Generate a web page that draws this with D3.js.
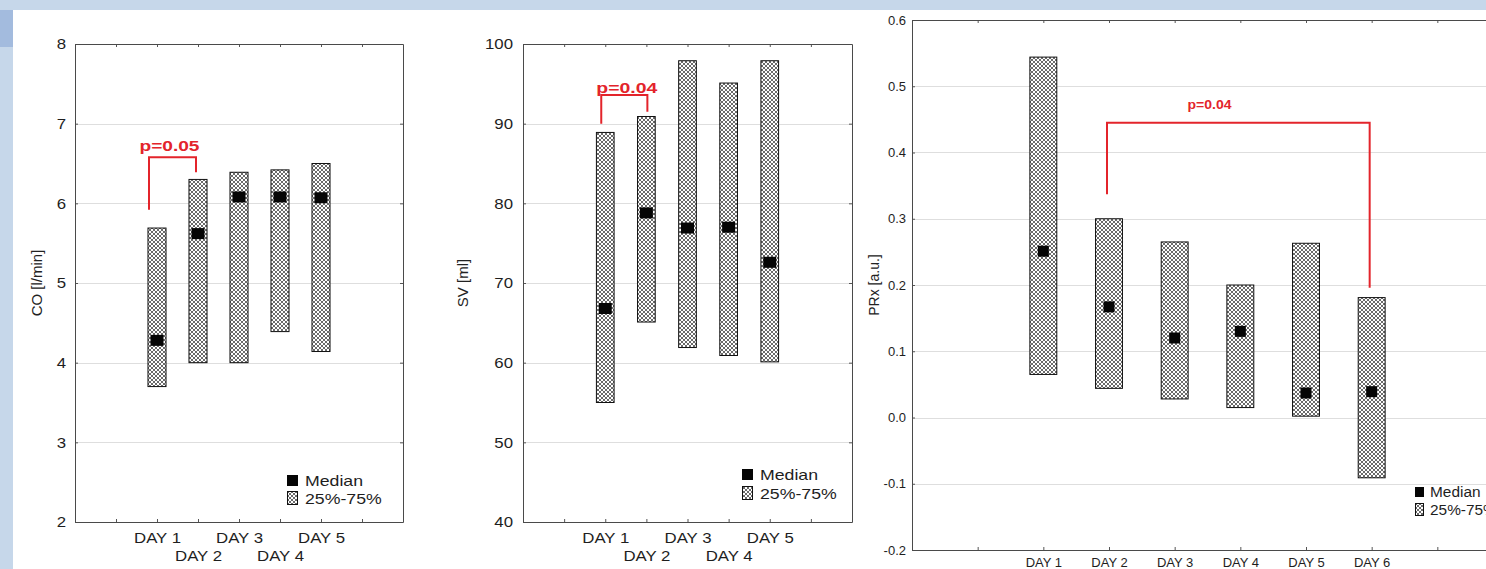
<!DOCTYPE html>
<html><head><meta charset="utf-8">
<script src="https://cdn.jsdelivr.net/npm/d3@7"></script>
<style>html,body{margin:0;padding:0;background:#c6d7ea;overflow:hidden;width:1486px;height:569px;} svg{display:block;overflow:hidden}</style>
</head><body><svg id="c" width="1486" height="569" viewBox="0 0 1486 569"></svg>
<script>
// ---------- data ----------
const days5 = ["DAY 1", "DAY 2", "DAY 3", "DAY 4", "DAY 5"];
const coQ1 = [3.70, 4.00, 4.00, 4.39, 4.14];
const coQ3 = [5.69, 6.30, 6.39, 6.42, 6.50];
const coMedian = [4.28, 5.62, 6.08, 6.08, 6.07];
const coTicks = [2, 3, 4, 5, 6, 7, 8];

const svQ1 = [55.0, 65.1, 61.9, 60.9, 60.1];
const svQ3 = [88.9, 90.9, 97.9, 95.1, 97.9];
const svMedian = [66.8, 78.8, 76.9, 77.0, 72.6];
const svTicks = [40, 50, 60, 70, 80, 90, 100];

const days6 = ["DAY 1", "DAY 2", "DAY 3", "DAY 4", "DAY 5", "DAY 6"];
const prxQ1 = [0.065, 0.044, 0.028, 0.015, 0.002, -0.091];
const prxQ3 = [0.544, 0.300, 0.265, 0.200, 0.263, 0.181];
const prxMedian = [0.251, 0.167, 0.120, 0.130, 0.037, 0.039];
const prxTicks = [-0.2, -0.1, 0.0, 0.1, 0.2, 0.3, 0.4, 0.5, 0.6];

const legendLabels = ["Median", "25%-75%"];
const coSig = { from: "DAY 1", to: "DAY 2", left: 5.92, top: 6.58, right: 6.39, label: "p=0.05" };
const svSig = { from: "DAY 1", to: "DAY 2", left: 90.0, top: 93.6, right: 91.5, label: "p=0.04" };
const prxSig = { from: "DAY 2", to: "DAY 6", left: 0.337, top: 0.445, right: 0.196, label: "p=0.04" };

// ---------- setup ----------
const FONT = "'Liberation Sans', Arial, sans-serif";
const RED = "#e3242b";
const W = 1486, H = 569;
const svg = d3.select("#c").style("font-family", FONT);

svg.append("rect").attr("x", 0).attr("y", 0).attr("width", W).attr("height", H).attr("fill", "#c6d7ea");
svg.append("rect").attr("x", 13).attr("y", 10).attr("width", W - 13).attr("height", H - 10).attr("fill", "#ffffff");
svg.append("rect").attr("x", 0).attr("y", 10).attr("width", 13).attr("height", 37).attr("fill", "#a3bbde");

const defs = svg.append("defs");
const pat = defs.append("pattern").attr("id", "hatch").attr("patternUnits", "userSpaceOnUse")
  .attr("width", 4).attr("height", 4);
pat.append("rect").attr("width", 4).attr("height", 4).attr("fill", "#fff");
pat.append("path").attr("d", "M-1,1 l2,-2 M0,4 l4,-4 M3,5 l2,-2 M-1,3 l2,2 M0,0 l4,4 M3,-1 l2,2")
  .attr("stroke", "#3a3a3a").attr("stroke-width", 0.75);

function stretch(sel, k) {
  sel.each(function () {
    const w = this.getComputedTextLength();
    if (w > 0) {
      this.setAttribute("textLength", w * k);
      this.setAttribute("lengthAdjust", "spacingAndGlyphs");
    }
  });
}

function panel(cfg) {
  const g = svg.append("g");
  const x = d3.scalePoint().domain(["_l", ...cfg.cats, "_r"]).range([cfg.x0, cfg.x1]).padding(1);
  const y = d3.scaleLinear().domain([cfg.ticks[0], cfg.ticks[cfg.ticks.length - 1]]).range([cfg.y1, cfg.y0]);
  const step = x.step();

  // grid
  g.append("g").selectAll("line").data(cfg.ticks.slice(1, -1)).join("line")
    .attr("x1", cfg.x0).attr("x2", Math.min(cfg.x1, W))
    .attr("y1", d => Math.round(y(d)) + 0.5).attr("y2", d => Math.round(y(d)) + 0.5)
    .attr("stroke", "#dedede").attr("stroke-width", 1);

  // axes
  const left = g.append("g").attr("transform", `translate(${cfg.x0},0)`)
    .call(d3.axisLeft(y).tickValues(cfg.ticks).tickSizeInner(-3).tickSizeOuter(0)
      .tickPadding(cfg.yPad).tickFormat(cfg.fmt));
  const bottom = g.append("g").attr("transform", `translate(0,${cfg.y1})`)
    .call(d3.axisBottom(x).tickSizeInner(-3).tickSizeOuter(0)
      .tickFormat(d => d.startsWith("_") ? "" : d));
  g.append("g").attr("transform", `translate(0,${cfg.y0})`)
    .call(d3.axisTop(x).tickSizeInner(-3).tickSizeOuter(0).tickFormat(""));
  if (cfg.x1 < W) {
    g.append("g").attr("transform", `translate(${cfg.x1},0)`)
      .call(d3.axisRight(y).tickValues(cfg.ticks).tickSizeInner(-3).tickSizeOuter(0).tickFormat(""));
  }
  g.selectAll(".domain").remove();
  g.selectAll(".tick line").attr("stroke", "#555");

  left.selectAll("text").attr("font-size", cfg.fs).attr("fill", "#1e1e1e").attr("font-family", FONT);
  bottom.selectAll("text").attr("font-size", cfg.fs).attr("fill", "#1e1e1e").attr("font-family", FONT)
    .attr("dy", 0)
    .attr("y", (d) => {
      const i = cfg.cats.indexOf(d);
      return cfg.twoRows && i % 2 === 1 ? cfg.xRow2 : cfg.xRow1;
    });
  if (cfg.sx !== 1) { stretch(left.selectAll("text"), cfg.sx); stretch(bottom.selectAll("text"), cfg.sx); }

  // frame (right side only if it lies on the canvas)
  const fx0 = cfg.x0 + 0.5, fy0 = cfg.y0 + 0.5, fy1 = cfg.y1 + 0.5;
  const fx1 = Math.min(cfg.x1 + 0.5, W + 5);
  const frameD = cfg.x1 < W
    ? `M${fx0},${fy0}H${fx1}V${fy1}H${fx0}Z`
    : `M${fx1},${fy0}H${fx0}V${fy1}H${fx1}`;
  g.append("path").attr("d", frameD)
    .attr("fill", "none").attr("stroke", "#4a4a4a").attr("stroke-width", 1);

  // boxes
  const bw = step * cfg.barFrac;
  const rows = cfg.cats.map((c, i) => ({ c, q1: cfg.q1[i], q3: cfg.q3[i], m: cfg.med[i] }));
  g.append("g").selectAll("rect").data(rows).join("rect")
    .attr("x", d => x(d.c) - bw / 2).attr("y", d => y(d.q3))
    .attr("width", bw).attr("height", d => y(d.q1) - y(d.q3))
    .attr("fill", "url(#hatch)").attr("stroke", "#111").attr("stroke-width", 1);
  g.append("g").selectAll("rect").data(rows).join("rect")
    .attr("x", d => x(d.c) - cfg.mw / 2).attr("y", d => y(d.m) - cfg.mh / 2)
    .attr("width", cfg.mw).attr("height", cfg.mh).attr("fill", "#050505");

  // significance bracket
  const s = cfg.sig;
  const xl = x(s.from) + cfg.brOff[0], xr = x(s.to) + cfg.brOff[1];
  g.append("path")
    .attr("d", `M${xl},${y(s.left)}V${y(s.top)}H${xr}V${y(s.right)}`)
    .attr("fill", "none").attr("stroke", RED).attr("stroke-width", 2);
  const st = g.append("text").attr("x", cfg.sigX(x)).attr("y", y(s.top) - cfg.sigGap)
    .attr("text-anchor", "middle").attr("font-size", cfg.sigFs).attr("font-weight", "bold")
    .attr("fill", RED).text(s.label);
  if (cfg.sigW) st.attr("textLength", cfg.sigW).attr("lengthAdjust", "spacingAndGlyphs");

  // y title
  g.append("text").attr("transform", `translate(${cfg.titleX},${(cfg.y0 + cfg.y1) / 2}) rotate(-90)`)
    .attr("text-anchor", "middle").attr("dominant-baseline", "central")
    .attr("font-size", cfg.titleFs).attr("fill", "#222").text(cfg.title);

  // legend
  const L = cfg.legend;
  g.append("rect").attr("x", L.x).attr("y", L.y1 - L.sh + 1).attr("width", L.sw).attr("height", L.sh - 1)
    .attr("fill", "#050505");
  g.append("rect").attr("x", L.x + 0.5).attr("y", L.y2 - L.sh - 1 + 0.5).attr("width", L.sw - 1).attr("height", L.sh + 1)
    .attr("fill", "url(#hatch)").attr("stroke", "#111").attr("stroke-width", 1);
  const lt = g.append("g").selectAll("text").data(legendLabels).join("text")
    .attr("x", L.x + L.sw + L.gap).attr("y", (d, i) => i === 0 ? L.y1 : L.y2)
    .attr("font-size", L.fs).attr("fill", "#1e1e1e").text(d => d);
  if (L.sx !== 1) stretch(lt, L.sx);
}

panel({
  cats: days5, q1: coQ1, q3: coQ3, med: coMedian, ticks: coTicks, fmt: d => d,
  x0: 75, x1: 403, y0: 44, y1: 522, fs: 15, sx: 1.12, yPad: 9,
  twoRows: true, xRow1: 21, xRow2: 39,
  barFrac: 0.44, mw: 13, mh: 11,
  sig: coSig, brOff: [-8, -2], sigFs: 15, sigW: 60, sigGap: 6,
  sigX: x => (x("DAY 1") + x("DAY 2")) / 2 - 8,
  title: "CO [l/min]", titleX: 36, titleFs: 15,
  legend: { x: 287, y1: 486, y2: 504, sw: 11, sh: 12, gap: 7, fs: 15, sx: 1.18 }
});

panel({
  cats: days5, q1: svQ1, q3: svQ3, med: svMedian, ticks: svTicks, fmt: d => d,
  x0: 523, x1: 852, y0: 44, y1: 522, fs: 15, sx: 1.12, yPad: 10,
  twoRows: true, xRow1: 21, xRow2: 39,
  barFrac: 0.43, mw: 13, mh: 11,
  sig: svSig, brOff: [-4, 1], sigFs: 15, sigW: 61, sigGap: 2,
  sigX: x => (x("DAY 1") + x("DAY 2")) / 2 + 1,
  title: "SV [ml]", titleX: 462, titleFs: 15,
  legend: { x: 742, y1: 480, y2: 499, sw: 11, sh: 12, gap: 7, fs: 15, sx: 1.18 }
});

panel({
  cats: days6, q1: prxQ1, q3: prxQ3, med: prxMedian, ticks: prxTicks, fmt: d => d.toFixed(1),
  x0: 912, x1: 1503, y0: 20, y1: 550, fs: 13, sx: 1, yPad: 6,
  twoRows: false, xRow1: 17, xRow2: 17,
  barFrac: 0.41, mw: 11, mh: 11,
  sig: prxSig, brOff: [-2, -2], sigFs: 13, sigW: 44, sigGap: 14,
  sigX: x => (x("DAY 3") + x("DAY 4")) / 2 + 2,
  title: "PRx [a.u.]", titleX: 874, titleFs: 14,
  legend: { x: 1415, y1: 497, y2: 515, sw: 9, sh: 11, gap: 6, fs: 14, sx: 1.1 }
});
</script>
</body></html>
